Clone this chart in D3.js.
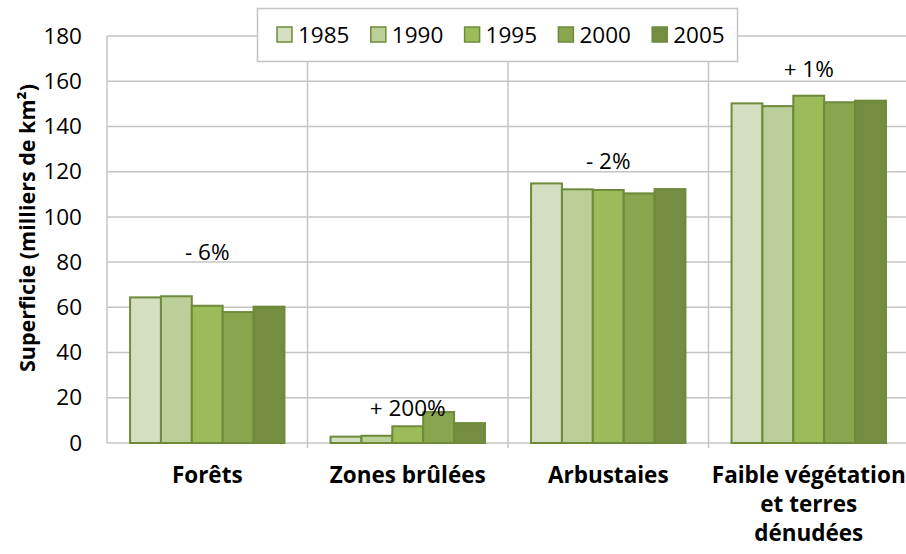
<!DOCTYPE html>
<html>
<head>
<meta charset="utf-8">
<script src="https://cdn.jsdelivr.net/npm/d3@7"></script>
<style>
  html, body { margin: 0; padding: 0; background: #fff; }
  svg { display: block; font-family: "Open Sans", "Noto Sans", sans-serif; }
</style>
</head>
<body>
<svg id="chart" width="906" height="554"></svg>
<script>
// Land cover area by class and year (thousands of km²)
const categories = ["Forêts", "Zones brûlées", "Arbustaies", "Faible végétation et terres dénudées"];
const categoryLines = [["Forêts"], ["Zones brûlées"], ["Arbustaies"], ["Faible végétation", "et terres", "dénudées"]];
const years = ["1985", "1990", "1995", "2000", "2005"];
const values1985 = [64.4, 2.8, 114.8, 150.2];
const values1990 = [64.9, 3.2, 112.2, 149.0];
const values1995 = [60.7, 7.4, 111.9, 153.6];
const values2000 = [57.9, 13.7, 110.4, 150.7];
const values2005 = [60.3, 8.8, 112.3, 151.4];
const changeLabels = ["- 6%", "+ 200%", "- 2%", "+ 1%"];
const changeLabelAt = [81, 12, 121, 162];   // value level of each change label's baseline
const yTicks = [0, 20, 40, 60, 80, 100, 120, 140, 160, 180];
const yTitle = "Superficie (milliers de km²)";

const seriesValues = [values1985, values1990, values1995, values2000, values2005];
const colors = ["#d3dfc0", "#bbcf98", "#9cbb59", "#89a54e", "#748d40"];
const barStroke = "#6f8a3b";
const gridColor = "#c4c4c4";

const svg = d3.select("#chart");
const plot = { left: 107, right: 909, top: 36, bottom: 443 };

const y = d3.scaleLinear().domain([0, 180]).range([plot.bottom, plot.top]);
const x0 = d3.scaleBand().domain(categories).range([plot.left, plot.right])
  .paddingInner(0.23).paddingOuter(0.115);
const x1 = d3.scaleBand().domain(years).range([0, x0.bandwidth()]);
const step = x0.step();

// horizontal gridlines
svg.append("g").selectAll("line").data(yTicks.filter(t => t > 0)).join("line")
  .attr("x1", plot.left).attr("x2", plot.right)
  .attr("y1", d => y(d)).attr("y2", d => y(d))
  .attr("stroke", gridColor).attr("stroke-width", 1.5);

// vertical gridlines between categories
svg.append("g").selectAll("line").data(categories.slice(1)).join("line")
  .attr("x1", d => x0(d) - x0.paddingInner() * step / 2)
  .attr("x2", d => x0(d) - x0.paddingInner() * step / 2)
  .attr("y1", plot.top).attr("y2", plot.bottom + 5)
  .attr("stroke", gridColor).attr("stroke-width", 1.5);

// axis lines
svg.append("line").attr("x1", plot.left).attr("x2", plot.left)
  .attr("y1", plot.top).attr("y2", plot.bottom)
  .attr("stroke", gridColor).attr("stroke-width", 1.5);
svg.append("line").attr("x1", plot.left).attr("x2", plot.right)
  .attr("y1", plot.bottom).attr("y2", plot.bottom)
  .attr("stroke", gridColor).attr("stroke-width", 1.5);

// y axis tick labels
const yAxis = d3.axisLeft(y).tickValues(yTicks).tickSize(0).tickPadding(0);
const yg = svg.append("g").attr("transform", `translate(${plot.left - 25},0)`).call(yAxis);
yg.select(".domain").remove();
yg.selectAll("text").attr("font-size", 22.5).attr("fill", "#000")
  .attr("font-family", "'Open Sans', 'Noto Sans', sans-serif");

// y axis title
svg.append("text")
  .attr("transform", `translate(26,228) rotate(-90)`)
  .attr("text-anchor", "middle").attr("dominant-baseline", "central")
  .attr("font-size", 21.5).attr("font-weight", "bold").attr("fill", "#000")
  .text(yTitle);

// bars
const groups = svg.append("g").selectAll("g").data(categories).join("g")
  .attr("transform", d => `translate(${x0(d)},0)`);
groups.selectAll("rect")
  .data((c, ci) => years.map((yr, si) => ({ year: yr, si, value: seriesValues[si][ci] })))
  .join("rect")
  .attr("x", d => x1(d.year))
  .attr("width", x1.bandwidth())
  .attr("y", d => y(d.value))
  .attr("height", d => y(0) - y(d.value))
  .attr("fill", d => colors[d.si])
  .attr("stroke", barStroke).attr("stroke-width", 2);

// change labels
svg.append("g").selectAll("text").data(categories).join("text")
  .attr("x", d => x0(d) + x0.bandwidth() / 2)
  .attr("y", (d, i) => y(changeLabelAt[i]))
  .attr("text-anchor", "middle")
  .attr("font-size", 22.5).attr("fill", "#000")
  .text((d, i) => changeLabels[i]);

// category labels
const catLabels = svg.append("g").selectAll("text").data(categories).join("text")
  .attr("text-anchor", "middle")
  .attr("font-size", 22.5).attr("font-weight", "bold").attr("fill", "#000");
catLabels.each(function (d, i) {
  const t = d3.select(this);
  categoryLines[i].forEach((line, li) => {
    t.append("tspan").attr("x", x0(d) + x0.bandwidth() / 2)
      .attr("y", 483 + li * 29).text(line);
  });
});

// legend
const legend = svg.append("g");
legend.append("rect").attr("x", 257.5).attr("y", 8.5).attr("width", 480).attr("height", 53)
  .attr("fill", "#fff").attr("stroke", gridColor).attr("stroke-width", 1.5);
const items = legend.selectAll("g").data(years).join("g")
  .attr("transform", (d, i) => `translate(${277 + i * 93.8},27)`);
items.append("rect").attr("width", 15).attr("height", 15)
  .attr("fill", (d, i) => colors[i]).attr("stroke", barStroke).attr("stroke-width", 1.5);
items.append("text").attr("x", 21).attr("y", 16)
  .attr("font-size", 22.5).attr("fill", "#000").text(d => d);
</script>
</body>
</html>
